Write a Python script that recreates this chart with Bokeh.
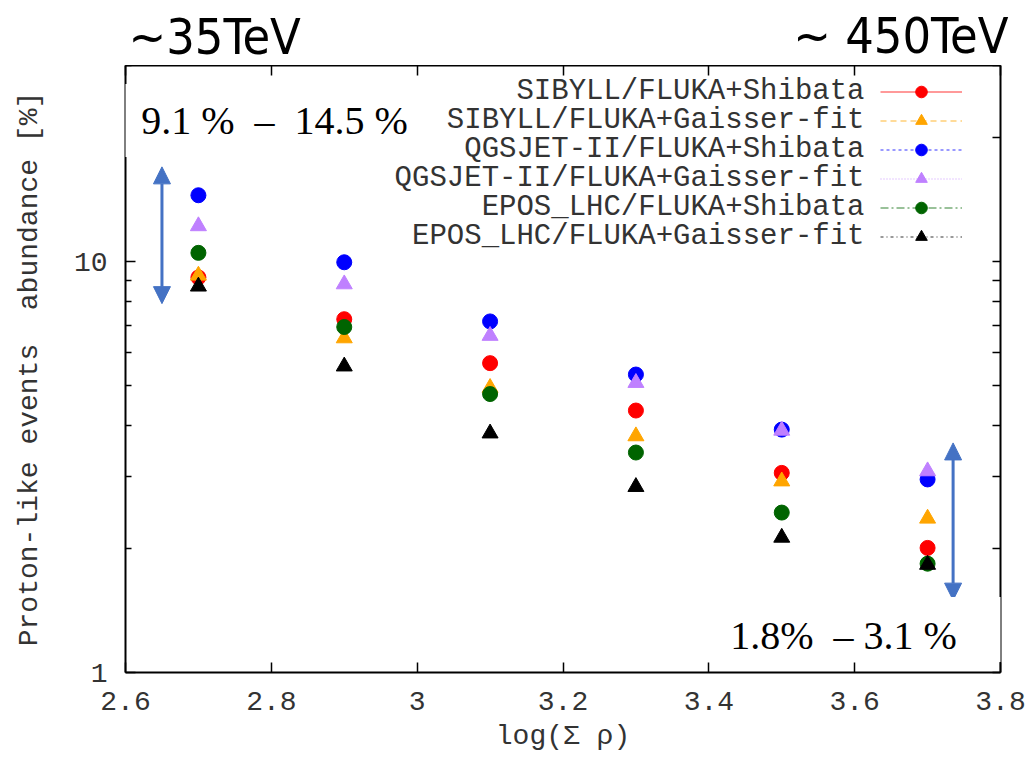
from bokeh.plotting import figure
from bokeh.layouts import column
from bokeh.models import (LinearAxis, LogAxis, FixedTicker, Label, Legend,
                          LegendItem, Arrow, NormalHead)
from bokeh.embed import file_html
from bokeh.resources import INLINE
from bokeh.core.properties import value

# ---------------- data ----------------
x_bins = [2.7, 2.9, 3.1, 3.3, 3.5, 3.7]   # log(sum rho)

series_names = [
    "SIBYLL/FLUKA+Shibata",
    "SIBYLL/FLUKA+Gaisser-fit",
    "QGSJET-II/FLUKA+Shibata",
    "QGSJET-II/FLUKA+Gaisser-fit",
    "EPOS_LHC/FLUKA+Shibata",
    "EPOS_LHC/FLUKA+Gaisser-fit",
]
sibyll_shibata = [9.15, 7.24, 5.66, 4.34, 3.06, 2.01]
sibyll_gaisser = [9.25, 6.51, 4.93, 3.76, 2.92, 2.37]
qgsjet_shibata = [14.5, 9.96, 7.15, 5.31, 3.90, 2.95]
qgsjet_gaisser = [12.2, 8.81, 6.60, 5.07, 3.88, 3.09]
epos_shibata = [10.5, 6.93, 4.76, 3.43, 2.45, 1.84]
epos_gaisser = [8.7, 5.56, 3.82, 2.83, 2.13, 1.83]
series_values = [sibyll_shibata, sibyll_gaisser, qgsjet_shibata,
                 qgsjet_gaisser, epos_shibata, epos_gaisser]

x_tick_values = [2.6, 2.8, 3.0, 3.2, 3.4, 3.6, 3.8]
x_tick_labels = ["2.6", "2.8", "3", "3.2", "3.4", "3.6", "3.8"]
y_tick_values = [1, 10]
y_tick_labels = ["1", "10"]
y_minor_ticks = [2, 3, 4, 5, 6, 7, 8, 9, 20, 30]

# arrows showing the spread (x, y_low, y_high)
arrow_left = (2.65, 7.9, 17.0)
arrow_right = (3.735, 1.50, 3.62)

# ---------------- styles ----------------
colors = ["#ff0000", "#ffa500", "#0000ff", "#bf80ff", "#006400", "#000000"]
markers = ["circle", "triangle", "circle", "triangle", "circle", "triangle"]
sizes = [15, 16, 15, 16, 15, 16]
dashes = ["solid", "6 4", "3 3", "1 2", "8 3 2 3", "3 3 1 3"]

MONO = "Liberation Mono"
TXT = "#333333"
TOP_H = 65
FRAME_L, FRAME_R = 125, 1000

# ---------------- header strip (energy labels) ----------------
# frame covers the whole strip (not aligned with the main frame), so data = page pixels
head = figure(width=1034, height=TOP_H, x_range=(0, 1034), y_range=(TOP_H, 0),
              output_backend="svg", toolbar_location=None,
              x_axis_location=None, y_axis_location=None,
              min_border=0, min_border_left=0, min_border_right=0,
              min_border_top=0, min_border_bottom=0)
head.frame_align = False
head.outline_line_color = None
head.xgrid.visible = False
head.ygrid.visible = False
NARROW = "'Liberation Sans Narrow', 'DejaVu Sans Condensed', sans-serif"
head.add_layout(Label(x=128, y=36, text="~35TeV", text_align="left",
                      text_baseline="middle", text_font=NARROW,
                      text_font_size="50px", text_color="black"))
head.add_layout(Label(x=1008, y=35, text="~ 450TeV", text_align="right",
                      text_baseline="middle", text_font=NARROW,
                      text_font_size="50px", text_color="black"))

# ---------------- main plot ----------------
p = figure(width=1034, height=761 - TOP_H, x_range=(2.6, 3.8), y_range=(1, 30),
           y_axis_type="log", output_backend="svg", toolbar_location=None,
           min_border_left=FRAME_L, min_border_right=1034 - FRAME_R,
           min_border_top=0, min_border_bottom=89)
p.outline_line_color = None
p.xgrid.visible = False
p.ygrid.visible = False

x_over = {v: l for v, l in zip(x_tick_values, x_tick_labels)}
y_over = {v: l for v, l in zip(y_tick_values, y_tick_labels)}

xa = p.xaxis[0]
xa.ticker = FixedTicker(ticks=x_tick_values)
xa.major_label_overrides = x_over
xa.axis_label = "log(\u03a3 \u03c1)"
ya = p.yaxis[0]
ya.ticker = FixedTicker(ticks=y_tick_values, minor_ticks=y_minor_ticks)
ya.major_label_overrides = y_over
ya.axis_label = "Proton-like events\u00a0\u00a0abundance [%]"

# mirrored axes: tick marks only (no labels)
top = LinearAxis(ticker=FixedTicker(ticks=[], minor_ticks=x_tick_values))
right = LogAxis(ticker=FixedTicker(ticks=[], minor_ticks=y_tick_values + y_minor_ticks))
p.add_layout(top, "above")
p.add_layout(right, "right")

for ax in [xa, ya, top, right]:
    ax.axis_line_width = 2
    ax.axis_line_color = "black"
    ax.major_tick_in = 10
    ax.major_tick_out = 0
    ax.minor_tick_in = 6
    ax.minor_tick_out = 0
    ax.major_tick_line_width = 1.5
    ax.minor_tick_line_width = 1.5
    ax.major_label_text_font = MONO
    ax.major_label_text_font_size = "28px"
    ax.major_label_text_color = TXT
    ax.axis_label_text_font = MONO
    ax.axis_label_text_font_size = "28px"
    ax.axis_label_text_font_style = "normal"
    ax.axis_label_text_color = TXT
xa.minor_tick_line_color = None
top.minor_tick_in = 10
right.minor_tick_in = 8
for ax in [top, right]:
    ax.major_label_standoff = 0
    ax.axis_label_standoff = 0

xa.major_label_standoff = 19
xa.axis_label_standoff = 8
ya.major_label_standoff = 18
ya.axis_label_standoff = 26

# ---------------- data marks ----------------
leg_items = []
for name, vals, c, m, s, d in zip(series_names, series_values, colors, markers, sizes, dashes):
    r = p.scatter(x=x_bins, y=vals, marker=m, size=s, fill_color=c, line_color=c)
    ln = p.line(x=[x_bins[0]], y=[float("nan")], line_color=c, line_dash=d,
                line_width=1, line_alpha=0.8)
    leg_items.append(LegendItem(label=value("\u00a0"), renderers=[ln, r]))

# legend glyph column (glyph to the right of the label, as in the reference)
row_pitch = 29
legend = Legend(items=leg_items, location=(755, 421), glyph_width=82, glyph_height=row_pitch,
                spacing=0, padding=0, margin=0, border_line_color=None,
                background_fill_alpha=0, label_text_font_size="6px", label_standoff=0,
                label_height=10)
p.add_layout(legend)

for i, name in enumerate(series_names):
    p.add_layout(Label(x=739, y=581 - i * row_pitch, x_units="screen", y_units="screen",
                       text=name, text_align="right", text_baseline="middle",
                       text_font=MONO, text_font_size="29px", text_color=TXT))

# ---------------- arrows ----------------
ARROW_C = "#4472c4"
for (ax_x, y_lo, y_hi) in [arrow_left, arrow_right]:
    p.add_layout(Arrow(x_start=ax_x, y_start=y_lo, x_end=ax_x, y_end=y_hi,
                       line_color=ARROW_C, line_width=3,
                       start=NormalHead(size=17, fill_color=ARROW_C, line_color=ARROW_C),
                       end=NormalHead(size=17, fill_color=ARROW_C, line_color=ARROW_C)))

# ---------------- range annotations ----------------
SERIF = "Liberation Serif"
p.add_layout(Label(x=145, y=552, x_units="screen", y_units="screen",
                   text="9.1 %\u00a0\u00a0\u2013\u00a0\u00a014.5 %", text_align="center",
                   text_baseline="middle", text_font=SERIF, text_font_size="40px",
                   text_color="black", background_fill_color="white",
                   padding=dict(left=24, right=16, top=14, bottom=14)))
p.add_layout(Label(x=739, y=43, x_units="screen", y_units="screen",
                   text="1.8%\u00a0\u00a0\u2013 3.1 %", text_align="center",
                   text_baseline="middle", text_font=SERIF, text_font_size="40px",
                   text_color="black", background_fill_color="white",
                   padding=dict(left=14, right=56, top=16, bottom=4)))

layout = column(head, p, spacing=0)
open("out.html", "w").write(file_html(layout, INLINE))
